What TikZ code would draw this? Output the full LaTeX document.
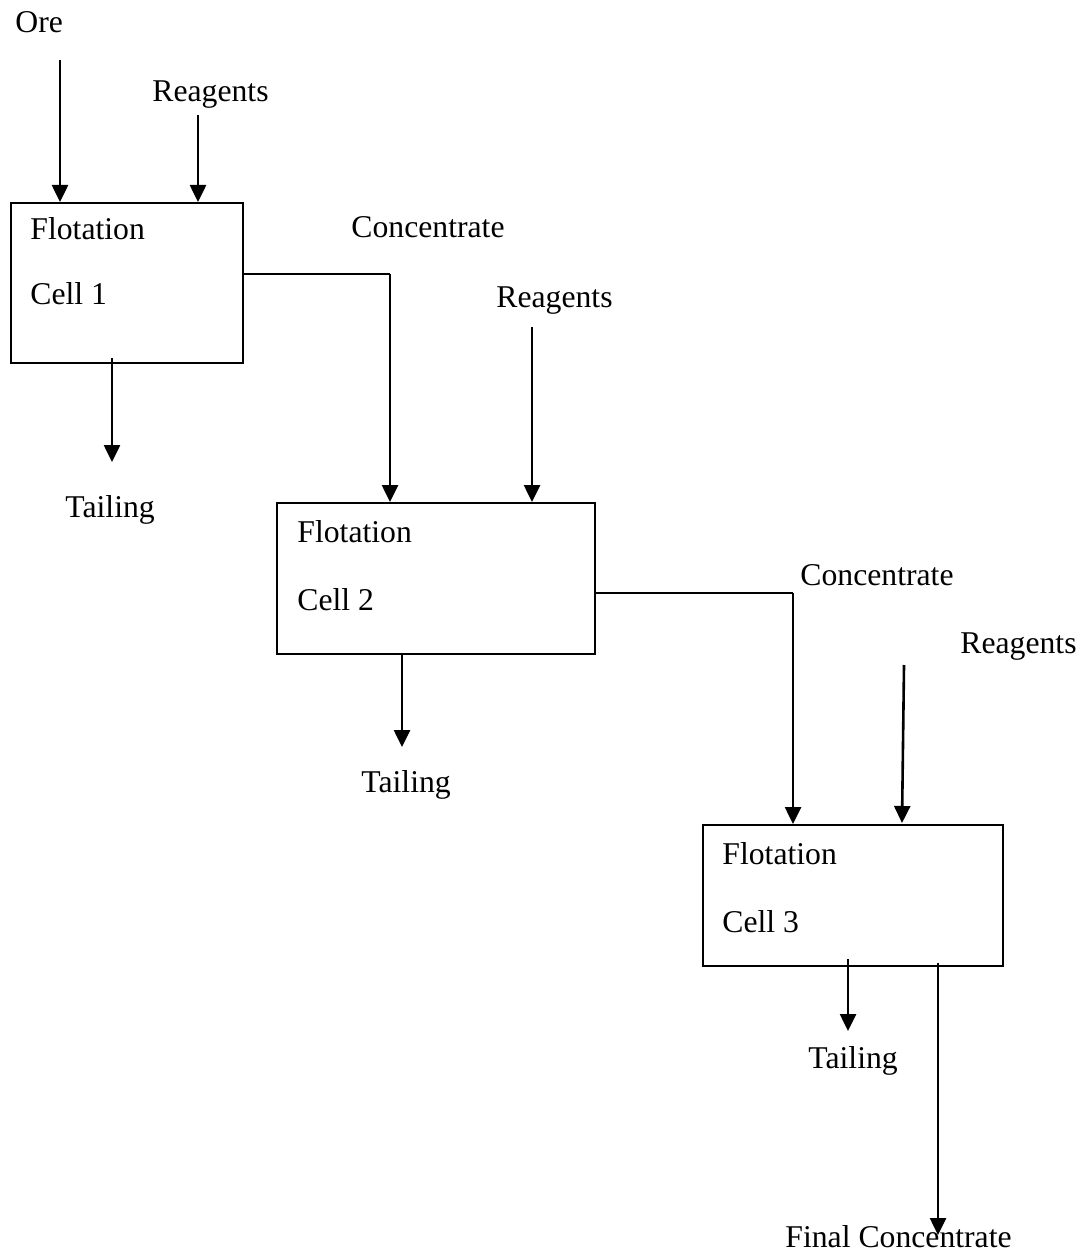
\documentclass[tikz,border=0pt]{standalone}
\usepackage{fontspec}
\setmainfont{Liberation Serif}
\usetikzlibrary{arrows.meta,positioning}

\tikzset{
  flow/.style={line width=1.3pt,-{Triangle[length=8.5pt,width=8pt]}},
  link/.style={line width=0.9pt},
  cell/.style={draw,line width=1.2pt,anchor=north west,inner sep=0pt},
  txt/.style={anchor=base west,inner sep=0pt,font=\fontsize{15.85}{19}\selectfont}
}

\begin{document}
\begin{tikzpicture}[x=0.5pt,y=-0.5pt]
			\useasboundingbox (0,0) rectangle (1084,1256);
			
			% cells
			\node[cell,minimum width=116pt,minimum height=80pt] (cell1) at (10,202) {};
			\node[cell,minimum width=159pt,minimum height=75.5pt] (cell2) at (276,502) {};
			\node[cell,minimum width=150pt,minimum height=70.5pt] (cell3) at (702,824) {};
			\node[txt] (flot1) at (30,240) {Flotation};
			\node[txt] (name1) at (30,305) {Cell 1};
			\node[txt] (flot2) at (297,542) {Flotation};
			\node[txt] (name2) at (297,610) {Cell 2};
			\node[txt] (flot3) at (722,864) {Flotation};
			\node[txt] (name3) at (722,932) {Cell 3};
			
			% feed to cell 1
			\node[txt] (ore) at (15,33) {Ore};
			\node[txt] (reag1) at (152,102) {Reagents};
			\coordinate (ore-in) at (60,60);
			\coordinate (reag1-in) at (198,115);
			\draw[flow] (ore-in) -- (ore-in |- cell1.north);
			\draw[flow] (reag1-in) -- (reag1-in |- cell1.north);
			
			% cell 1 outputs
			\node[txt] (conc1) at (351,238) {Concentrate};
			\coordinate (conc1-out) at (242,274);
			\coordinate (conc1-turn) at (390,274);
			\draw[link] (conc1-out) -- (conc1-turn);
			\draw[flow] (conc1-turn) -- (conc1-turn |- cell2.north);
			\node[txt] (tail1) at (65,517) {Tailing};
			\coordinate (tail1-out) at (112,358);
			\coordinate (tail1-end) at (112,462);
			\draw[flow] (tail1-out) -- (tail1-end);
			
			% reagents to cell 2
			\node[txt] (reag2) at (496,308) {Reagents};
			\coordinate (reag2-in) at (532,327);
			\draw[flow] (reag2-in) -- (reag2-in |- cell2.north);
			
			% cell 2 outputs
			\node[txt] (conc2) at (800,585) {Concentrate};
			\coordinate (conc2-out) at (594,593);
			\coordinate (conc2-turn) at (793,593);
			\draw[link] (conc2-out) -- (conc2-turn);
			\draw[flow] (conc2-turn) -- (conc2-turn |- cell3.north);
			\node[txt] (tail2) at (361,792) {Tailing};
			\coordinate (tail2-out) at (402,653);
			\coordinate (tail2-end) at (402,747);
			\draw[flow] (tail2-out) -- (tail2-end);
			
			% reagents to cell 3
			\node[txt] (reag3) at (960,653) {Reagents};
			\coordinate (reag3-in) at (904,665);
			\coordinate (reag3-end) at (902,823);
			\draw[flow] (reag3-in) -- (reag3-end);
			
			% cell 3 outputs
			\node[txt] (tail3) at (808,1068) {Tailing};
			\coordinate (tail3-out) at (848,959);
			\coordinate (tail3-end) at (848,1031);
			\draw[flow] (tail3-out) -- (tail3-end);
			\node[txt] (final) at (785,1247) {Final Concentrate};
			\coordinate (final-out) at (938,963);
			\coordinate (final-end) at (938,1235);
			\draw[flow] (final-out) -- (final-end);
			
		\end{tikzpicture}
\end{document}
